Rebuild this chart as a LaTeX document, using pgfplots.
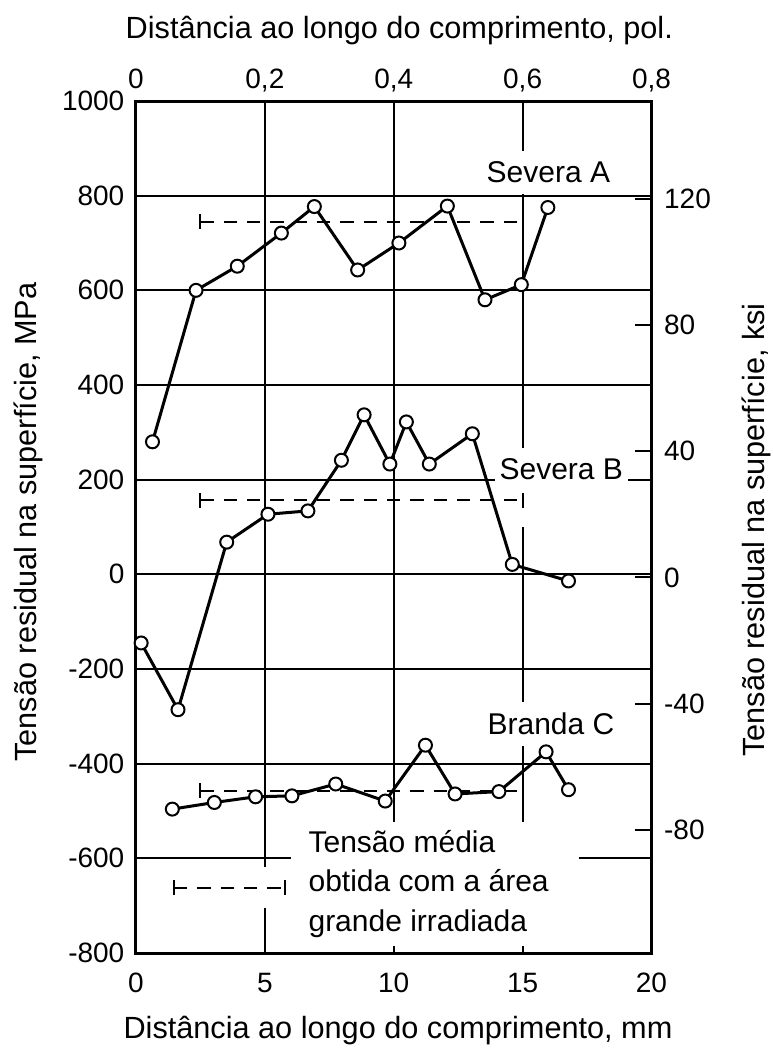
\documentclass[border=0pt]{standalone}
\usepackage{fontspec}
\setmainfont{Liberation Sans}
\usepackage{pgfplots}
\pgfplotsset{compat=1.18}
\newcommand\tickfont{\fontsize{8.4}{10}\selectfont}
\newcommand\labfont{\fontsize{9.2}{11}\selectfont}
\newcommand\annfont{\fontsize{9}{11}\selectfont}
\begin{document}
\begin{tikzpicture}
\pgfplotsset{
  base/.style={scale only axis, width=154.65pt, height=255.6pt,
    at={(0,0)}, anchor=south west, xmin=0, xmax=20, clip=false},
  ser/.style={black, line width=0.9pt, mark=*, mark size=1.95pt,
    mark options={fill=white, draw=black, line width=0.6pt}},
  mean/.style={black, line width=0.6pt, dash pattern=on 4pt off 3pt,
    mark=|, mark size=2.2pt, mark options={solid, line width=0.6pt}},
}
\begin{axis}[base, ymin=-800, ymax=1000,
  xtick={0,5,10,15,20}, xticklabels={0,5,10,15,20},
  ytick={-800,-600,-400,-200,0,200,400,600,800,1000},
  yticklabels={-800,-600,-400,-200,0,200,400,600,800,1000},
  grid=major, major grid style={black, line width=0.6pt},
  major tick length=0pt,
  axis line style={line width=0.9pt},
  xticklabel style={font=\tickfont, anchor=base, inner sep=0pt, yshift=-11.7pt},
  yticklabel style={font=\tickfont, anchor=east, inner sep=0pt, xshift=-3.3pt},
]
% breaks in the grid
\fill[white] (6.0,-523) rectangle (17.2,-785);
\fill[white] (4.75,-619) rectangle (5.25,-705);
\fill[white] (14.7,100) rectangle (15.3,258);

% Severa A
\addplot[ser] coordinates {(0.64,280) (2.33,600) (3.93,651) (5.64,721) (6.92,777) (8.6,643) (10.2,700) (12.08,778) (13.54,580) (14.95,612) (15.98,775)};
% Severa B
\addplot[ser] coordinates {(0.2,-145) (1.63,-286) (3.52,68) (5.12,127) (6.67,134) (7.97,241) (8.85,337) (9.85,233) (10.49,322) (11.38,233) (13.05,297) (14.6,21) (16.78,-14)};
% Branda C
\addplot[ser] coordinates {(1.41,-496) (3.04,-482) (4.64,-470) (6.05,-468) (7.75,-443) (9.67,-479) (11.23,-361) (12.38,-464) (14.08,-459) (15.91,-375) (16.78,-455)};

% mean stresses (large irradiated area)
\addplot[mean] coordinates {(2.5,745) (15,745)};
\addplot[mean] coordinates {(2.5,156) (15,156)};
\addplot[mean] coordinates {(2.5,-457) (15,-457)};
\addplot[mean] coordinates {(1.48,-662) (5.78,-662)};

\node[fill=white, inner xsep=1.5pt, inner ysep=0pt, minimum height=13pt, font=\annfont] at (16.0,849) {Severa A};
\node[fill=white, inner xsep=1.5pt, inner ysep=0pt, minimum height=13pt, font=\annfont] at (16.5,222) {Severa B};
\node[fill=white, inner xsep=1.5pt, inner ysep=0pt, minimum height=13pt, font=\annfont] at (16.1,-316) {Branda C};
\node[anchor=base west, inner sep=0pt, font=\annfont] at (6.67,-587) {Tensão média};
\node[anchor=base west, inner sep=0pt, font=\annfont] at (6.67,-670) {obtida com a área};
\node[anchor=base west, inner sep=0pt, font=\annfont] at (6.67,-754) {grande irradiada};
\end{axis}

\begin{axis}[base, ymin=-119, ymax=151,
  axis x line*=top, axis y line*=right,
  axis line style={line width=0.9pt, -},
  xtick={0,5,10,15,20}, xticklabels={0,{0,2},{0,4},{0,6},{0,8}},
  ytick={-80,-40,0,40,80,120}, yticklabels={-80,-40,0,40,80,120},
  tick align=inside,
  x tick style={draw=none},
  y tick style={black, line width=0.6pt},
  major tick length=5pt,
  xticklabel style={font=\tickfont, anchor=base, inner sep=0pt, yshift=3.9pt},
  yticklabel style={font=\tickfont, anchor=west, inner sep=0pt, xshift=3.6pt},
]
\addplot[draw=none] coordinates {(0,0)};
\end{axis}

\node[anchor=base, font=\labfont, inner sep=0pt] at (79pt,274.5pt) {Distância ao longo do comprimento, pol.};
\node[anchor=base, font=\labfont, inner sep=0pt] at (78.6pt,-25.5pt) {Distância ao longo do comprimento, mm};
\node[anchor=base, rotate=90, font=\labfont, inner sep=0pt] at (-29.7pt,129.3pt) {Tensão residual na superfície, MPa};
\node[anchor=base, rotate=90, font=\labfont, inner sep=0pt] at (188.7pt,126.9pt) {Tensão residual na superfície, ksi};

\pgfresetboundingbox
\path[use as bounding box] (-40.8pt,-28.5pt) rectangle (191.1pt,285.9pt);
\end{tikzpicture}
\end{document}
